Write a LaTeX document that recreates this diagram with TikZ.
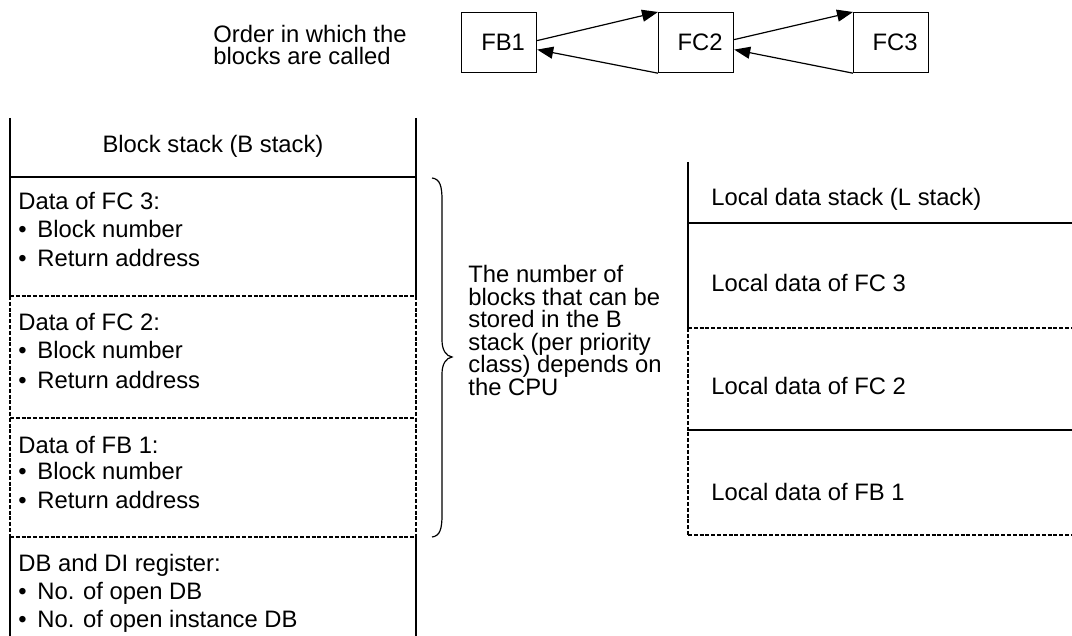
\documentclass[tikz,border=0pt]{standalone}
\usepackage{fontspec}
\setmainfont{Liberation Sans}
\usetikzlibrary{arrows.meta}
\newcommand\bul[1]{\makebox[9.5pt][l]{\textbullet}#1}
\begin{document}
\begin{tikzpicture}[x=0.5pt,y=-0.5pt,
  every node/.style={font=\fontsize{11.9pt}{14pt}\selectfont, inner sep=0pt, text=black},
  lbl/.style={anchor=base west},
  ctr/.style={anchor=base},
  blk/.style={draw, line width=0.6pt, minimum width=37.5pt, minimum height=30pt, anchor=north west},
  arr/.style={line width=0.6pt, -{Triangle[length=8pt,width=6pt]}},
  ln/.style={line width=0.6pt},
  thk/.style={line width=1pt},
  dsh/.style={line width=0.75pt, dash pattern=on 2pt off 0.9pt},
]
\useasboundingbox (0,0) rectangle (1072,636);

% call order
\node[lbl] (ord1) at (213,43) {Order in which the};
\node[lbl] (ord2) at (213,65) {blocks are called};
\node[blk] (fb1) at (461,12) {\hspace*{4pt}FB1};
\node[blk] (fc2) at (658,12) {\hspace*{4pt}FC2};
\node[blk] (fc3) at (853,12) {\hspace*{4pt}FC3};
\draw[arr] ([yshift=1pt]fb1.east) -- (fc2.north west);
\draw[arr] (fc2.south west) -- ([yshift=-3.5pt]fb1.east);
\draw[arr] ([yshift=1.5pt]fc2.east) -- (fc3.north west);
\draw[arr] (fc3.south west) -- ([yshift=-3.5pt]fc2.east);

% B stack
\draw[ln] (10,118) -- (10,296);
\draw[ln] (416,118) -- (416,296);
\draw[dsh] (10,296) -- (10,537);
\draw[dsh] (416,296) -- (416,537);
\draw[ln] (10,537) -- (10,636);
\draw[ln] (416,537) -- (416,636);
\draw[ln] (10,177) -- (416,177);
\draw[dsh] (10,296) -- (416,296);
\draw[dsh] (10,418) -- (416,418);
\draw[dsh] (10,537) -- (416,537);

\node[ctr] (bhead) at (213,153) {Block stack (B stack)};
\node[lbl] (c3a) at (18,210) {Data of FC 3:};
\node[lbl] (c3b) at (18,238) {\bul{Block number}};
\node[lbl] (c3c) at (18,267) {\bul{Return address}};
\node[lbl] (c2a) at (18,331) {Data of FC 2:};
\node[lbl] (c2b) at (18,359) {\bul{Block number}};
\node[lbl] (c2c) at (18,389) {\bul{Return address}};
\node[lbl] (b1a) at (18,453) {Data of FB 1:};
\node[lbl] (b1b) at (18,480) {\bul{Block number}};
\node[lbl] (b1c) at (18,509) {\bul{Return address}};
\node[lbl] (dba) at (18,571) {DB and DI register:};
\node[lbl] (dbb) at (18,599) {\bul{No. of open DB}};
\node[lbl] (dbc) at (18,627) {\bul{No. of open instance DB}};

% brace
\draw[ln] (432,178) .. controls (440,179) and (442,186) .. (442,200)
  -- (442,340) .. controls (442,350) and (446,356) .. (452,357)
  .. controls (446,358) and (442,364) .. (442,374)
  -- (442,515) .. controls (442,529) and (440,536) .. (432,537);
\node[lbl] (n1) at (468,283) {The number of};
\node[lbl] (n2) at (468,305.5) {blocks that can be};
\node[lbl] (n3) at (468,328) {stored in the B};
\node[lbl] (n4) at (468,350.5) {stack (per priority};
\node[lbl] (n5) at (468,373) {class) depends on};
\node[lbl] (n6) at (468,395.5) {the CPU};

% L stack
\draw[ln] (688,162) -- (688,328);
\draw[dsh] (688,328) -- (688,535);
\draw[ln] (688,223) -- (1072,223);
\draw[dsh] (688,328) -- (1072,328);
\draw[thk] (688,430) -- (1072,430);
\draw[dsh] (688,535) -- (1072,535);
\node[lbl] (lhead) at (711,206) {Local data stack (L stack)};
\node[lbl] (l3) at (711,292) {Local data of FC 3};
\node[lbl] (l2) at (711,394) {Local data of FC 2};
\node[lbl] (l1) at (711,501) {Local data of FB 1};
\end{tikzpicture}
\end{document}
